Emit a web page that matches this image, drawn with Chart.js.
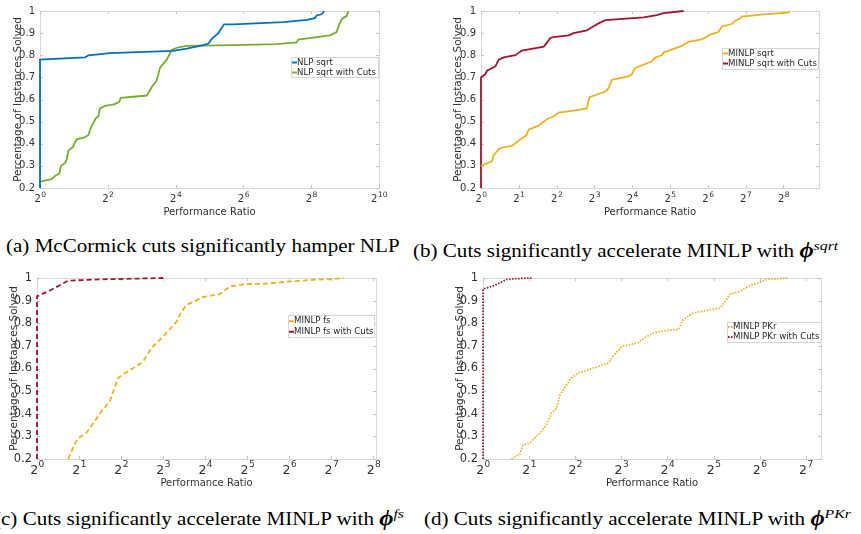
<!DOCTYPE html>
<html>
<head>
<meta charset="utf-8">
<script src="https://cdn.jsdelivr.net/npm/chart.js@4"></script>
<style>
body { margin: 0; background: #fff; width: 861px; height: 534px; overflow: hidden; position: relative; }
canvas { position: absolute; }
.cap { position: absolute; font-family: 'Liberation Serif', 'Times New Roman', serif; font-size: 18px; line-height: 24px; color: #000; white-space: nowrap; transform: scaleX(1.17); transform-origin: 0 0; }
.phi { font-weight: bold; font-style: italic; font-size: 21px; }
.cap sup { font-style: italic; font-size: 13.5px; }
</style>
</head>
<body>
<canvas id="chart_a" width="430" height="220" style="left:0;top:0"></canvas>
<canvas id="chart_b" width="431" height="220" style="left:430px;top:0"></canvas>
<canvas id="chart_c" width="430" height="226" style="left:0;top:265px"></canvas>
<canvas id="chart_d" width="431" height="226" style="left:430px;top:265px"></canvas>
<div class="cap" style="left:6px;top:234px">(a) McCormick cuts significantly hamper NLP</div>
<div class="cap" style="left:413px;top:234px">(b) Cuts significantly accelerate MINLP with <span class="phi">ϕ</span><sup>sqrt</sup></div>
<div class="cap" style="left:-6px;top:502px">(c) Cuts significantly accelerate MINLP with <span class="phi">ϕ</span><sup>fs</sup></div>
<div class="cap" style="left:424px;top:502px">(d) Cuts significantly accelerate MINLP with <span class="phi">ϕ</span><sup>PKr</sup></div>
<script>
// x values are log2(performance ratio); x tick labels are written as 2^exponent
const y_ticks = [0.2, 0.3, 0.4, 0.5, 0.6, 0.7, 0.8, 0.9, 1]
const y_labels = ['0.2', '0.3', '0.4', '0.5', '0.6', '0.7', '0.8', '0.9', '1']

const x_ticks_a = [0, 2, 4, 6, 8, 10]
const x_exps_a = ['0', '2', '4', '6', '8', '10']
const x_ticks_b = [0, 1, 2, 3, 4, 5, 6, 7, 8]
const x_exps_b = ['0', '1', '2', '3', '4', '5', '6', '7', '8']
const x_ticks_c = [0, 1, 2, 3, 4, 5, 6, 7, 8]
const x_exps_c = ['0', '1', '2', '3', '4', '5', '6', '7', '8']
const x_ticks_d = [0, 1, 2, 3, 4, 5, 6, 7]
const x_exps_d = ['0', '1', '2', '3', '4', '5', '6', '7']

// (a) NLP sqrt
const nlp_x = [0, 0, 1.33, 1.43, 2.06, 3.93, 4.33, 4.82, 4.97, 5.06, 5.26, 5.34, 5.43, 5.70, 7.18, 7.87, 8.11, 8.16, 8.31, 8.38]
const nlp_y = [0.2, 0.78, 0.79, 0.80, 0.81, 0.82, 0.83, 0.846, 0.853, 0.873, 0.90, 0.92, 0.94, 0.94, 0.95, 0.96, 0.968, 0.98, 0.985, 1.0]
const nlp_cuts_x = [0, 0.34, 0.44, 0.57, 0.62, 0.74, 0.79, 0.84, 0.96, 1.08, 1.33, 1.43, 1.49, 1.65, 1.72, 1.77, 1.92, 2.21, 2.34, 2.38, 3.15, 3.32, 3.44, 3.54, 3.64, 3.74, 3.88, 4.08, 4.33, 5.70, 6.98, 7.57, 7.62, 8.55, 8.75, 8.83, 8.90, 9.05, 9.10]
const nlp_cuts_y = [0.229, 0.24, 0.254, 0.266, 0.30, 0.313, 0.33, 0.37, 0.384, 0.42, 0.43, 0.44, 0.47, 0.516, 0.523, 0.56, 0.571, 0.579, 0.59, 0.608, 0.618, 0.662, 0.685, 0.743, 0.762, 0.78, 0.824, 0.836, 0.842, 0.846, 0.85, 0.858, 0.871, 0.89, 0.905, 0.94, 0.963, 0.978, 1.0]

// (b) MINLP sqrt
const sqrt_x = [0, 0.29, 0.33, 0.47, 0.56, 0.82, 0.99, 1.20, 1.26, 1.52, 1.74, 1.92, 2.05, 2.54, 2.80, 2.87, 3.29, 3.37, 3.46, 3.90, 3.99, 4.08, 4.52, 4.61, 4.78, 4.83, 5.31, 5.49, 5.84, 6.06, 6.28, 6.37, 6.63, 6.72, 6.85, 6.89, 7.47, 8.13, 8.16]
const sqrt_y = [0.30, 0.32, 0.347, 0.376, 0.383, 0.39, 0.413, 0.438, 0.464, 0.482, 0.511, 0.523, 0.541, 0.552, 0.56, 0.611, 0.636, 0.651, 0.689, 0.704, 0.714, 0.743, 0.773, 0.79, 0.80, 0.812, 0.842, 0.861, 0.872, 0.893, 0.905, 0.93, 0.941, 0.956, 0.966, 0.975, 0.985, 0.993, 1.0]
const sqrt_cuts_x = [0, 0, 0.11, 0.16, 0.38, 0.47, 0.60, 0.91, 1.02, 1.08, 1.66, 1.74, 1.83, 1.96, 2.32, 2.45, 2.80, 2.93, 3.11, 3.29, 4.30, 4.65, 4.83, 5.36]
const sqrt_cuts_y = [0.2, 0.70, 0.714, 0.73, 0.75, 0.78, 0.79, 0.80, 0.814, 0.821, 0.839, 0.856, 0.878, 0.883, 0.89, 0.90, 0.912, 0.927, 0.944, 0.959, 0.971, 0.981, 0.99, 1.0]

// (c) MINLP fs
const fs_x = [0.74, 0.89, 0.97, 1.17, 1.37, 1.53, 1.73, 1.93, 2.09, 2.29, 2.52, 2.72, 3.04, 3.32, 3.44, 3.56, 3.75, 3.95, 4.35, 4.59, 4.98, 5.46, 6.02, 6.65, 6.97, 7.29]
const fs_y = [0.2, 0.263, 0.29, 0.315, 0.366, 0.41, 0.455, 0.558, 0.58, 0.602, 0.63, 0.69, 0.749, 0.808, 0.852, 0.882, 0.897, 0.916, 0.929, 0.963, 0.973, 0.975, 0.985, 0.993, 0.994, 1.0]
const fs_cuts_x = [0, 0, 0.30, 0.74, 1.49, 2.29, 3.0]
const fs_cuts_y = [0.2, 0.919, 0.944, 0.988, 0.994, 0.997, 1.0]

// (d) MINLP PKr
const pkr_x = [0.62, 0.80, 0.87, 1.01, 1.12, 1.27, 1.38, 1.48, 1.59, 1.67, 1.81, 1.92, 2.06, 2.39, 2.72, 2.82, 3.01, 3.34, 3.48, 3.69, 3.91, 4.24, 4.34, 4.56, 4.92, 5.14, 5.25, 5.36, 5.58, 5.79, 5.97, 6.12, 6.63]
const pkr_y = [0.2, 0.222, 0.263, 0.27, 0.293, 0.322, 0.352, 0.403, 0.422, 0.484, 0.528, 0.558, 0.58, 0.602, 0.624, 0.654, 0.698, 0.712, 0.732, 0.757, 0.767, 0.772, 0.816, 0.845, 0.86, 0.867, 0.896, 0.929, 0.941, 0.967, 0.978, 0.993, 1.0]
const pkr_cuts_x = [0, 0, 0.25, 0.51, 0.72, 1.05]
const pkr_cuts_y = [0.2, 0.951, 0.967, 0.993, 0.997, 1.0]

const blue = '#0072BD'
const green = '#77AC30'
const yellow = '#EDB120'
const red = '#A2142F'
const text_color = '#333333'
const font_family = '"DejaVu Sans", sans-serif'

function to_points(xs, ys) {
    return xs.map((x, i) => ({x: x, y: ys[i]}))
}

// light box with small inward ticks, MATLAB style
const frame_plugin = {
    id: 'frame',
    beforeDatasetsDraw(chart) {
        const {ctx, chartArea: {left, right, top, bottom}, scales: {x, y}} = chart
        ctx.save()
        ctx.strokeStyle = '#d9d9d9'
        ctx.lineWidth = 1
        ctx.strokeRect(Math.round(left) + 0.5, Math.round(top) + 0.5, Math.round(right - left), Math.round(bottom - top))
        ctx.strokeStyle = '#c4c4c4'
        ctx.beginPath()
        x.ticks.forEach(t => {
            const px = Math.round(x.getPixelForValue(t.value)) + 0.5
            ctx.moveTo(px, bottom); ctx.lineTo(px, bottom - 3)
            ctx.moveTo(px, top); ctx.lineTo(px, top + 3)
        })
        y.ticks.forEach(t => {
            const py = Math.round(y.getPixelForValue(t.value)) + 0.5
            ctx.moveTo(left, py); ctx.lineTo(left + 3, py)
            ctx.moveTo(right, py); ctx.lineTo(right - 3, py)
        })
        ctx.stroke()
        ctx.restore()
    }
}

// x tick labels as 2 with a raised exponent
const pow_ticks_plugin = {
    id: 'pow_ticks',
    afterDraw(chart, args, opts) {
        const {ctx, chartArea: {bottom}, scales: {x}} = chart
        ctx.save()
        ctx.fillStyle = text_color
        ctx.textBaseline = 'top'
        ctx.textAlign = 'left'
        x.ticks.forEach((t, i) => {
            const px = x.getPixelForValue(t.value)
            const ty = bottom + opts.pad
            ctx.font = opts.size + 'px ' + font_family
            const w_base = ctx.measureText('2').width
            ctx.font = opts.exp_size + 'px ' + font_family
            const w_exp = ctx.measureText(opts.labels[i]).width
            const x0 = px - (w_base + w_exp) / 2
            ctx.font = opts.size + 'px ' + font_family
            ctx.fillText('2', x0, ty)
            ctx.font = opts.exp_size + 'px ' + font_family
            ctx.fillText(opts.labels[i], x0 + w_base + 0.5, ty - opts.size * 0.28)
        })
        ctx.restore()
    }
}

const legend_plugin = {
    id: 'box_legend',
    afterDraw(chart, args, opts) {
        const ctx = chart.ctx
        ctx.save()
        ctx.fillStyle = '#ffffff'
        ctx.fillRect(opts.x, opts.y, opts.w, opts.h)
        ctx.strokeStyle = '#d4d4d4'
        ctx.lineWidth = 1
        ctx.strokeRect(opts.x + 0.5, opts.y + 0.5, opts.w, opts.h)
        ctx.font = opts.size + 'px ' + font_family
        ctx.textBaseline = 'middle'
        chart.data.datasets.forEach((ds, i) => {
            const cy = opts.y + opts.pad + opts.row * (i + 0.5)
            ctx.strokeStyle = ds.borderColor
            ctx.lineWidth = 2
            ctx.setLineDash(ds.borderDash || [])
            ctx.beginPath()
            ctx.moveTo(opts.x + 1, cy)
            ctx.lineTo(opts.x + 6, cy)
            ctx.stroke()
            ctx.setLineDash([])
            ctx.fillStyle = '#262626'
            ctx.fillText(ds.label, opts.x + 6, cy)
        })
        ctx.restore()
    }
}

function make_chart(id, c) {
    c.datasets.forEach(ds => { ds.clip = false })
    return new Chart(document.getElementById(id), {
        type: 'line',
        data: {datasets: c.datasets},
        options: {
            responsive: false,
            animation: false,
            events: [],
            layout: {padding: c.padding},
            elements: {point: {radius: 0}, line: {tension: 0, borderWidth: 1.8}},
            plugins: {
                legend: {display: false},
                tooltip: {enabled: false},
                box_legend: c.legend,
                pow_ticks: {labels: c.xexps, size: c.xtick_size, exp_size: c.xexp_size, pad: c.xpad}
            },
            scales: {
                x: {
                    type: 'linear',
                    min: 0,
                    max: c.xmax,
                    afterBuildTicks: s => { s.ticks = c.xticks.map(v => ({value: v})) },
                    afterFit: s => { s.height = c.xheight },
                    grid: {display: false, drawTicks: false},
                    border: {display: false},
                    ticks: {display: false},
                    title: {
                        display: true, text: 'Performance Ratio', color: text_color,
                        padding: {top: 0, bottom: 2},
                        font: {family: font_family, size: 10}
                    }
                },
                y: {
                    type: 'linear',
                    min: 0.2,
                    max: 1,
                    afterBuildTicks: s => { s.ticks = y_ticks.map(v => ({value: v})) },
                    afterFit: s => { s.width = c.ywidth },
                    grid: {display: false, drawTicks: false},
                    border: {display: false},
                    ticks: {
                        callback: (v, i) => y_labels[i],
                        padding: 5,
                        color: text_color,
                        font: {family: font_family, size: c.ytick_size}
                    },
                    title: {
                        display: true, text: 'Percentage of Instances Solved', color: text_color,
                        padding: {top: 3, bottom: 0},
                        font: {family: font_family, size: 10.5}
                    }
                }
            }
        },
        plugins: [frame_plugin, pow_ticks_plugin, legend_plugin]
    })
}

make_chart('chart_a', {
    xmax: 10, xticks: x_ticks_a, xexps: x_exps_a,
    padding: {left: 9, top: 7, right: 51, bottom: 0},
    ywidth: 31, xheight: 32, xpad: 6, xtick_size: 10, xexp_size: 7.5, ytick_size: 10,
    legend: {x: 291, y: 57, w: 87, h: 20, pad: 0.5, row: 10, size: 8.6},
    datasets: [
        {label: 'NLP sqrt', data: to_points(nlp_x, nlp_y), borderColor: blue},
        {label: 'NLP sqrt with Cuts', data: to_points(nlp_cuts_x, nlp_cuts_y), borderColor: green}
    ]
})

make_chart('chart_b', {
    xmax: 8.94, xticks: x_ticks_b, xexps: x_exps_b,
    padding: {left: 19, top: 7, right: 42, bottom: 0},
    ywidth: 32, xheight: 32, xpad: 6, xtick_size: 10, xexp_size: 7.5, ytick_size: 10,
    legend: {x: 292, y: 48, w: 96, h: 21, pad: 0.5, row: 10, size: 8.6},
    datasets: [
        {label: 'MINLP sqrt', data: to_points(sqrt_x, sqrt_y), borderColor: yellow},
        {label: 'MINLP sqrt with Cuts', data: to_points(sqrt_cuts_x, sqrt_cuts_y), borderColor: red}
    ]
})

make_chart('chart_c', {
    xmax: 8.06, xticks: x_ticks_c, xexps: x_exps_c,
    padding: {left: 5, top: 13, right: 54, bottom: 0},
    ywidth: 32, xheight: 32, xpad: 5, xtick_size: 12.5, xexp_size: 9, ytick_size: 11.5,
    legend: {x: 288, y: 50, w: 86, h: 22, pad: 1, row: 10.5, size: 8.6},
    datasets: [
        {label: 'MINLP fs', data: to_points(fs_x, fs_y), borderColor: yellow, borderDash: [5, 3]},
        {label: 'MINLP fs with Cuts', data: to_points(fs_cuts_x, fs_cuts_y), borderColor: red, borderDash: [5, 3]}
    ]
})

make_chart('chart_d', {
    xmax: 7.33, xticks: x_ticks_d, xexps: x_exps_d,
    padding: {left: 21, top: 13, right: 40, bottom: 0},
    ywidth: 32, xheight: 32, xpad: 5, xtick_size: 12.5, xexp_size: 9, ytick_size: 11.5,
    legend: {x: 297, y: 57, w: 94, h: 20, pad: 0, row: 10, size: 8.6},
    datasets: [
        {label: 'MINLP PKr', data: to_points(pkr_x, pkr_y), borderColor: yellow, borderDash: [1.5, 1.5]},
        {label: 'MINLP PKr with Cuts', data: to_points(pkr_cuts_x, pkr_cuts_y), borderColor: red, borderDash: [1.5, 1.5]}
    ]
})
</script>
</body>
</html>
